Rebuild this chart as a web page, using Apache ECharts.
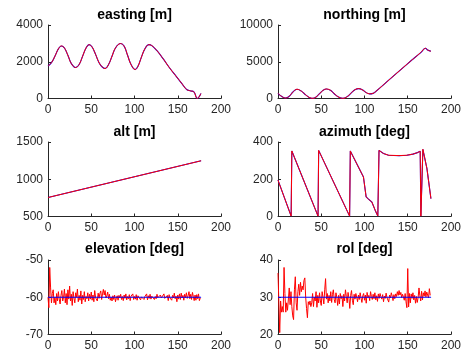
<!DOCTYPE html>
<html><head><meta charset="utf-8">
<script src="https://cdn.jsdelivr.net/npm/echarts@6/dist/echarts.min.js"></script>
<style>html,body{margin:0;padding:0;background:#fff}#c{width:464px;height:358px}</style>
</head><body><div id="c"></div><script>
// ---- data ----
var titles = ['easting [m]', 'northing [m]', 'alt [m]', 'azimuth [deg]', 'elevation [deg]', 'rol [deg]'];
var xTicks = [0, 50, 100, 150, 200];
var yRanges = [[0, 4000, 2000], [0, 10000, 5000], [500, 1500, 500], [0, 400, 200], [-70, -50, 10], [20, 40, 10]];

var easting = [[0,1770],[4,1950],[8,2300],[12,2700],[15.5,2860],[19,2750],[23,2350],[27,1900],[32,1685],[36,1850],[40,2300],[44,2750],[47.5,2930],[51,2800],[55,2400],[59,1950],[63,1700],[66,1630],[70,1850],[74,2300],[78,2750],[83.8,2990],[88,2850],[92,2350],[96,1850],[100.8,1575],[104,1750],[108,2250],[112,2700],[116.6,2930],[120,2880],[126,2600],[133,2170],[140,1700],[148.7,1175],[155,800],[160.3,490],[165,413],[168.7,360],[172.6,0],[176.8,270]];
var northing = [[0,700],[4,300],[8.8,60],[13,300],[17,850],[22,1260],[27,1000],[32,500],[36,150],[40.5,20],[44,200],[48,650],[52,1100],[56,1300],[61,1100],[65,650],[70,200],[75,20],[80,250],[85,800],[89,1200],[93.4,1350],[98,1150],[102,800],[106,630],[110,700],[112,850],[130,2700],[150,4750],[165,6250],[170.6,6830],[173,6600],[176.8,6430]];
var alt = [[0,755],[177,1248]];
var azimuth = [[0,195],[15.2,2],[16,352],[46.3,2],[47,355],[82.8,2],[83.6,352],[98.8,212],[101.9,105],[104.6,93],[108.5,78],[112.3,34],[115.4,3],[116.8,355],[119,345],[122,338],[127.8,329],[140,327],[149,329],[156,335],[161.3,343],[164.4,350],[165.2,2],[167,2],[167.5,361],[172.2,257],[176.8,96]];
var elevation = [-60,-62.8,-52,-57.5,-61.5,-59,-58,-61.5,-60,-62,
-59,-61,-58.5,-60.5,-61.8,-59.5,-58.2,-61,-60,-57.8,
-61.5,-59,-62,-58,-60.5,-57,-61,-59.2,-62.2,-58.5,
-60.2,-61.5,-58.8,-60,-57.8,-61.2,-59.5,-60.8,-58.3,-61.8,
-59.5,-60.6,-58.5,-61.2,-59.8,-60.4,-58.8,-61,-59.2,-60.5,
-58.6,-60.8,-59.4,-61.2,-58.2,-60.1,-59.6,-61,-58.9,-60.3,
-59,-58.3,-60.6,-59.1,-57.9,-59.4,-58.2,-60.2,-59.6,-58.6,
-60.4,-59.2,-60.8,-60,-61,-59.6,-60.6,-59.4,-61.2,-60.2,
-59.6,-60.8,-59.5,-60.2,-59.2,-60.6,-59.8,-60.9,-59.4,-60.3,
-59.1,-60.7,-59.8,-60.4,-59.3,-60.9,-59.7,-60.2,-59.1,-60.6,
-59.8,-60.5,-59.3,-60.8,-59.6,-60.1,-59.2,-60.7,-59.9,-60.4,
-59.4,-60.6,-59.8,-60.2,-59.1,-60.7,-59.6,-60.3,-59.2,-60.5,
-59.7,-60.2,-59.3,-60.6,-59.8,-60.4,-59.2,-60.1,-59.6,-60.5,
-59.4,-60.2,-59.7,-60.6,-59.1,-60.3,-59.8,-60.5,-59.5,-60.9,
-59.3,-60.2,-59.7,-60.8,-59.5,-60.2,-58.9,-60.4,-59.7,-61.2,
-59.4,-60.5,-59.1,-60.6,-58.9,-60.2,-59.5,-60.8,-59.2,-60.1,
-58.8,-60.3,-59.6,-58.5,-60.4,-59.2,-60.6,-58.7,-59.8,-60.9,
-59.4,-60.8,-59.3,-60.4,-59.1,-60.9,-60.2];
var rol = [36.5,36,20.5,29,26,27.5,26,38,31,26,
28.5,26.5,27,32.5,28,31.5,27.5,25,24,32,
35.5,28.5,26.5,31.5,33.5,30.5,34,31.5,33,32,
34.5,35.2,30,27,24.5,28.8,28,29,27.5,28.5,
31,27.5,30,29,31.5,27.3,30.5,28.5,31.2,29,
27.8,31.5,30,28.2,32,35,29.5,31,28.5,30.5,
29,31.5,28.6,30.8,32,29.4,28.5,31.2,30,27.8,
30.5,28.2,31,29.6,30.4,27.5,30.8,29,32,30.2,
28.5,31.3,29.8,27,30.5,31.8,29.2,28,30.8,29.5,
31,30,28.8,30.6,29.4,31.2,29.8,28.6,30.4,31,
29.2,30.6,28.4,31.3,29.9,30.5,29.1,31.5,30.2,29.4,
30.8,29.6,31.2,29.3,30.4,28.9,30.9,29.7,31,30.1,
29.5,30.7,28.8,30.3,29.7,31.1,29.9,30.4,28.7,30.6,
29.8,31.2,30.3,29.1,30.7,29.6,30.9,30.2,31.5,30.5,
31.8,30.6,31.3,29.9,30.8,30.1,29.2,31,28.8,27.2,
37.7,27.4,31,28.5,30.9,29.7,31.2,29.3,30.5,28.4,
30.2,28.6,29.9,32.5,30.4,29,31.6,29.3,31.2,30.3,
31.7,30.1,31.4,30.6,29.8,32.3,30.5];
var elevationRef = [[0,-60],[177,-60]];
var rolRef = [[0,30],[177,30]];

// ---- layout ----
var font = "'Liberation Sans', Arial, Helvetica, sans-serif";
var ink = '#262626';
var lefts = [48, 278];
var rows = [[25, 73.5], [142, 74.5], [260, 74.5]];
var titleTops = [7, 124, 241];

function idx(arr) { return arr.map(function (v, i) { return [i, v]; }); }
function plain(v) { return String(v); }

var grids = [], xAxes = [], yAxes = [], tts = [], series = [];
for (var i = 0; i < 6; i++) {
  var c = i % 2, r = Math.floor(i / 2);
  grids.push({ left: lefts[c], top: rows[r][0], width: 173, height: rows[r][1], containLabel: false });
  tts.push({ text: titles[i], left: lefts[c] + 86.5, top: titleTops[r], textAlign: 'center', padding: 0,
    textStyle: { fontFamily: font, fontSize: 14, fontWeight: 'bold', color: '#000', lineHeight: 16 } });
  var common = {
    axisLine: { show: true, onZero: false, lineStyle: { color: ink, width: 1 } },
    axisTick: { show: true, inside: true, length: 3, lineStyle: { color: ink } },
    splitLine: { show: false },
    axisLabel: { fontFamily: font, fontSize: 12, color: ink, margin: 5, formatter: plain }
  };
  xAxes.push(Object.assign({ type: 'value', gridIndex: i, min: xTicks[0], max: xTicks[xTicks.length - 1], interval: 50 }, common));
  yAxes.push(Object.assign({ type: 'value', gridIndex: i, min: yRanges[i][0], max: yRanges[i][1], interval: yRanges[i][2] }, common));
}

function ln(data, k, color, opacity, smooth, w) {
  return { type: 'line', xAxisIndex: k, yAxisIndex: k, data: data, showSymbol: false, symbol: 'none', smooth: smooth || false,
    lineStyle: { color: color, width: w || 1, opacity: opacity }, silent: true, animation: false };
}
series.push(ln(easting, 0, '#0000ff', 1, 0.4, 1.1));
series.push(ln(easting, 0, '#ff0000', 1, 0.4, 1));
series.push(ln(northing, 1, '#0000ff', 1, 0.4, 1.1));
series.push(ln(northing, 1, '#ff0000', 1, 0.4, 1));
series.push(ln(alt, 2, '#0000ff', 1, false, 1.1));
series.push(ln(alt, 2, '#ff0000', 1, false, 1));
series.push(ln(azimuth, 3, '#0000ff', 1, false, 1.1));
series.push(ln(azimuth, 3, '#ff0000', 1, false, 1));
series.push(ln(idx(elevation), 4, '#ff0000', 1));
series.push(ln(elevationRef, 4, '#0000ff', 1, false, 1.2));
series.push(ln(idx(rol), 5, '#ff0000', 1));
series.push(ln(rolRef, 5, '#0000ff', 1, false, 1.2));

var chart = echarts.init(document.getElementById('c'), null, { renderer: 'canvas' });
chart.setOption({ animation: false, backgroundColor: '#fff', title: tts, grid: grids, xAxis: xAxes, yAxis: yAxes, series: series });
</script></body></html>
